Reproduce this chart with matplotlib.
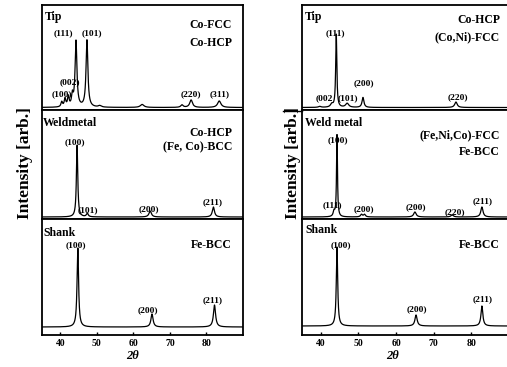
import numpy as np
import matplotlib
matplotlib.use("Agg")
import matplotlib.pyplot as plt
from matplotlib.lines import Line2D

plt.rcParams['font.family'] = ['Liberation Serif', 'DejaVu Serif']
plt.rcParams['font.weight'] = 'bold'

W, H = 507, 367

# peak lists: centre (2theta), height above baseline, half width
left_tip_pos = [40.4, 41.3, 42.2, 43.3, 44.3, 47.3, 50.8, 62.4, 73.3, 75.8, 83.5]
left_tip_hgt = [5, 8, 10, 11, 66, 67, 1.5, 3, 2.5, 7.5, 6.5]
left_tip_wid = [0.25, 0.25, 0.25, 0.25, 0.3, 0.3, 0.5, 0.6, 0.4, 0.45, 0.55]
left_tip_base = 2.5

left_weld_pos = [44.6, 47.4, 64.6, 81.9]
left_weld_hgt = [72, 3.5, 6, 10]
left_weld_wid = [0.22, 0.3, 0.4, 0.35]
left_weld_base = 2

left_shank_pos = [44.8, 65.1, 82.2]
left_shank_hgt = [79, 13, 22]
left_shank_wid = [0.25, 0.35, 0.35]
left_shank_base = 8

right_tip_pos = [39.7, 42.9, 44.1, 47.0, 51.2, 75.9]
right_tip_hgt = [1, 3, 73, 4, 10, 5.5]
right_tip_wid = [0.4, 0.4, 0.18, 0.5, 0.3, 0.4]
right_tip_base = 2.5

right_weld_pos = [43.5, 44.3, 50.8, 51.6, 65.0, 74.9, 82.8]
right_weld_hgt = [5, 82, 2.5, 2.5, 5, 2, 10]
right_weld_wid = [0.25, 0.15, 0.3, 0.3, 0.4, 0.4, 0.35]
right_weld_base = 2

right_shank_pos = [44.3, 65.3, 82.8]
right_shank_hgt = [79, 11, 20]
right_shank_wid = [0.22, 0.35, 0.3]
right_shank_base = 9

# peak labels: text, 2theta, height (px above panel bottom)
left_tip_lbl = [("(111)", 40.8, 77), ("(101)", 48.7, 77), ("(002)", 42.7, 28),
                ("(100)", 40.5, 16), ("(220)", 75.8, 16), ("(311)", 83.5, 16)]
left_weld_lbl = [("(100)", 44.0, 77), ("(101)", 47.6, 9), ("(200)", 64.3, 10), ("(211)", 81.8, 17)]
left_shank_lbl = [("(100)", 44.3, 90), ("(200)", 64.0, 25), ("(211)", 81.6, 35)]
right_tip_lbl = [("(111)", 43.9, 77), ("(002", 41.0, 12), ("(101)", 47.2, 12),
                 ("(200)", 51.5, 27), ("(220)", 76.4, 13)]
right_weld_lbl = [("(100)", 44.5, 79), ("(111)", 43.1, 14), ("(200)", 51.5, 10),
                  ("(200)", 65.3, 12), ("(220)", 75.5, 7), ("(211)", 83.1, 18)]
right_shank_lbl = [("(100)", 45.3, 90), ("(200)", 65.5, 26), ("(211)", 83.1, 36)]

x_ticks = [40, 50, 60, 70, 80]

fig = plt.figure(figsize=(W / 100, H / 100), dpi=100)

rows = [(5, 110), (110, 219), (219, 335)]
cols = [(42, 243), (302, 509)]

panels = [
    [(left_tip_pos, left_tip_hgt, left_tip_wid, left_tip_base, left_tip_lbl),
     (left_weld_pos, left_weld_hgt, left_weld_wid, left_weld_base, left_weld_lbl),
     (left_shank_pos, left_shank_hgt, left_shank_wid, left_shank_base, left_shank_lbl)],
    [(right_tip_pos, right_tip_hgt, right_tip_wid, right_tip_base, right_tip_lbl),
     (right_weld_pos, right_weld_hgt, right_weld_wid, right_weld_base, right_weld_lbl),
     (right_shank_pos, right_shank_hgt, right_shank_wid, right_shank_base, right_shank_lbl)],
]

x = np.linspace(35, 90, 3000)

for c, (x0, x1) in enumerate(cols):
    for r, (yt, yb) in enumerate(rows):
        ax = fig.add_axes([x0 / W, 1 - yb / H, (x1 - x0) / W, (yb - yt) / H])
        pos, hgt, wid, base, lbl = panels[c][r]
        y = np.full_like(x, base, dtype=float)
        for p, h, w in zip(pos, hgt, wid):
            y += h / (1 + ((x - p) / w) ** 2)
        ax.plot(x, y, color='black', lw=0.9)
        for s, px, py in lbl:
            ax.text(px, py, s, ha='center', va='center', fontsize=6.8, fontweight='bold')
        ax.set_xlim(35, 90)
        ax.set_ylim(0, yb - yt)
        ax.set_yticks([])
        for sp in ax.spines.values():
            sp.set_linewidth(1.3)
        if r == 2:
            ax.set_xticks(x_ticks)
            ax.tick_params(axis='x', direction='in', length=2.5, width=1, labelsize=7, pad=3)
            for t in ax.get_xticklabels():
                t.set_fontweight('bold')
        else:
            ax.set_xticks([])

# scanned separator stub left of the right panel
fig.add_artist(Line2D([283 / W, 302 / W], [1 - 111 / H, 1 - 111 / H], color='black', lw=1.0))


def ftext(px, py, s, **kw):
    fig.text(px / W, 1 - py / H, s, va='center', fontweight='bold', **kw)


# sample / phase labels
ftext(45, 17, "Tip", fontsize=8.5)
ftext(232, 25, "Co-FCC", fontsize=8.5, ha='right')
ftext(232, 43, "Co-HCP", fontsize=8.5, ha='right')
ftext(43, 123, "Weldmetal", fontsize=8.5)
ftext(232, 133, "Co-HCP", fontsize=8.5, ha='right')
ftext(232, 147, "(Fe, Co)-BCC", fontsize=8.5, ha='right')
ftext(43, 233, "Shank", fontsize=8.5)
ftext(232, 245, "Fe-BCC", fontsize=8.5, ha='right')

ftext(305, 17, "Tip", fontsize=8.5)
ftext(500, 20, "Co-HCP", fontsize=8.5, ha='right')
ftext(500, 37, "(Co,Ni)-FCC", fontsize=8.5, ha='right')
ftext(305, 123, "Weld metal", fontsize=8.5)
ftext(500, 135, "(Fe,Ni,Co)-FCC", fontsize=8.5, ha='right')
ftext(500, 152, "Fe-BCC", fontsize=8.5, ha='right')
ftext(305, 230, "Shank", fontsize=8.5)
ftext(500, 245, "Fe-BCC", fontsize=8.5, ha='right')

# axis titles
ftext(25, 163, "Intensity [arb.]", fontsize=12.5, rotation=90, ha='center')
ftext(293, 163, "Intensity [arb.]", fontsize=12.5, rotation=90, ha='center')
ftext(133, 356, "2θ", fontsize=9, ha='center', style='italic')
ftext(393, 356, "2θ", fontsize=9, ha='center', style='italic')

fig.savefig("out.png", dpi=100)
